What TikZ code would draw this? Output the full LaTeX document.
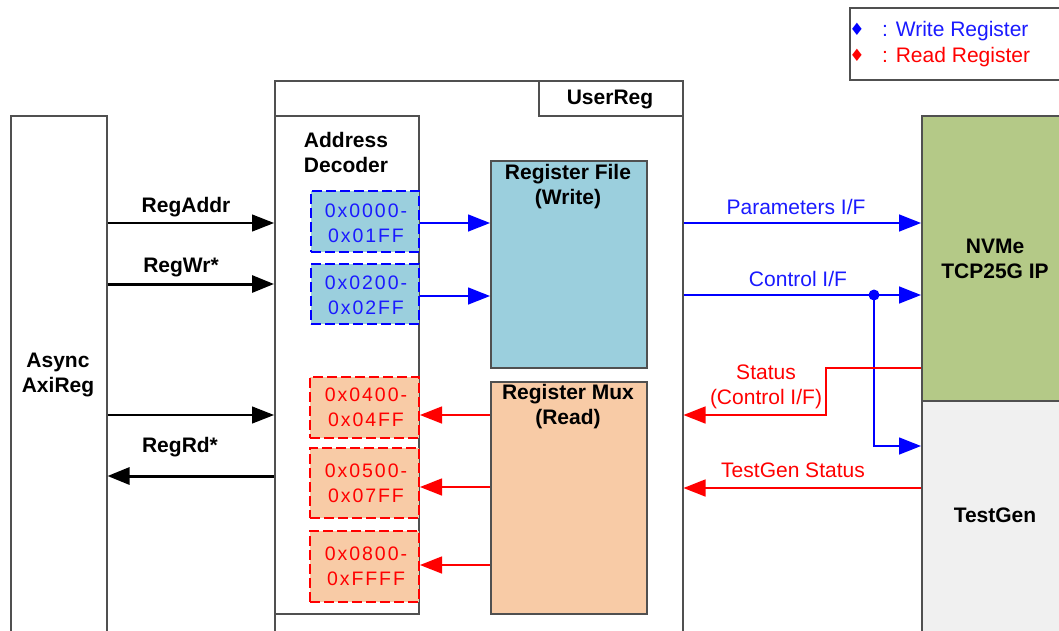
\documentclass[tikz,border=0pt]{standalone}
\usepackage{fontspec}
\setmainfont{Liberation Sans}
\newfontfamily\dejavu{DejaVu Sans}
\newfontfamily\hexfont[LetterSpace=10]{Liberation Sans}
\usetikzlibrary{arrows.meta}
\definecolor{bordc}{HTML}{505050}
\definecolor{rfblue}{HTML}{9BCFDD}
\definecolor{muxor}{HTML}{F8CBA6}
\definecolor{ipgreen}{HTML}{B4C987}
\definecolor{tggrey}{HTML}{F0F0F0}
\definecolor{lnblue}{HTML}{0000FF}
\definecolor{txblue}{HTML}{1A1AFF}
\definecolor{lnred}{HTML}{FF0000}
\tikzset{
  box/.style={draw=bordc, line width=1.5pt, anchor=north west, inner sep=0pt},
  lbl/.style={font=\fontsize{21}{25}\selectfont, align=center, inner sep=0pt, yshift=-2pt},
  blbl/.style={font=\bfseries\fontsize{21}{25}\selectfont, align=center, inner sep=0pt, yshift=-2pt},
  hext/.style={lbl, font=\hexfont\fontsize{19.5}{25}\selectfont},
  hexw/.style={box, draw=lnblue, dash pattern=on 10pt off 4pt, line width=2pt, fill=rfblue},
  hexr/.style={box, draw=lnred, dash pattern=on 10pt off 4pt, line width=2pt, fill=muxor},
  tip/.style={-{Triangle[length=22pt,width=17pt]}},
  thinb/.style={tip, draw=black, line width=1.2pt},
  thickb/.style={tip, draw=black, line width=3pt},
  bluel/.style={tip, draw=lnblue, line width=1.5pt},
  redl/.style={tip, draw=lnred, line width=1.5pt},
  dia/.style={font=\dejavu\fontsize{17}{17}\selectfont, inner sep=0pt}
}
\begin{document}
\begin{tikzpicture}[x=1pt,y=-1pt]
\useasboundingbox (0,0) rectangle (1059,630);
\clip (0,0) rectangle (1059,630);
\fill[white] (0,0) rectangle (1059,630);

% Legend
\node[box, draw=bordc, minimum width=230, minimum height=72] (leg) at (849,7) {};
\node[dia, text=lnblue] (dw) at (857,29) {♦};
\node[lbl, text=txblue, anchor=west] (lw) at (882,29) {: Write Register};
\node[dia, text=lnred] (dr) at (857,55) {♦};
\node[lbl, text=lnred, anchor=west] (lr) at (882,55) {: Read Register};

% Async AxiReg
\node[box, minimum width=96, minimum height=540] (async) at (10,115) {};
\node[blbl] (asynct) at (58,373) {Async\\AxiReg};

% UserReg
\node[box, minimum width=408, minimum height=570] (ur) at (274,80) {};
\node[box, minimum width=144, minimum height=35] (urlbl) at (538,80) {};
\node[blbl] (urt) at (610,97) {UserReg};

% Address decoder
\node[box, minimum width=144, minimum height=498] (dec) at (274,115) {};
\node[blbl] (dect) at (346,150) {Address\\Decoder};

\node[hexw, minimum width=108, minimum height=61] (b1) at (310,190) {};
\node[hext, text=txblue] (b1t) at (366,221) {0x0000-\\0x01FF};
\node[hexw, minimum width=108, minimum height=60] (b2) at (310,263) {};
\node[hext, text=txblue] (b2t) at (366,293) {0x0200-\\0x02FF};

\node[hexr, minimum width=109, minimum height=61] (r1) at (309,376) {};
\node[hext, text=lnred] (r1t) at (366,405) {0x0400-\\0x04FF};
\node[hexr, minimum width=109, minimum height=70] (r2) at (309,447) {};
\node[hext, text=lnred] (r2t) at (366,481) {0x0500-\\0x07FF};
\node[hexr, minimum width=109, minimum height=71] (r3) at (309,530) {};
\node[hext, text=lnred] (r3t) at (366,564) {0x0800-\\0xFFFF};

% Register file / mux
\node[box, fill=rfblue, minimum width=156, minimum height=207] (rf) at (490,160) {};
\node[blbl] (rft) at (568,185) {Register File\\(Write)};
\node[box, fill=muxor, minimum width=156, minimum height=232] (mux) at (490,381) {};
\node[blbl] (muxt) at (568,405) {Register Mux\\(Read)};

% NVMe / TestGen
\node[box, fill=ipgreen, minimum width=160, minimum height=285] (nvme) at (921,115) {};
\node[blbl] (nvmet) at (995,257) {NVMe\\TCP25G IP};
\node[box, fill=tggrey, minimum width=160, minimum height=250] (tg) at (921,400) {};
\node[blbl] (tgt) at (995,513) {TestGen};

% Left connectors
\draw[thinb] (async.east |- 0,223) -- (dec.west |- 0,223);
\node[blbl] (la) at (186,205) {RegAddr};
\draw[thickb] (async.east |- 0,284) -- (dec.west |- 0,284);
\node[blbl] (lwr) at (181,265) {RegWr*};
\draw[thinb] (async.east |- 0,415) -- (dec.west |- 0,415);
\draw[thickb] (dec.west |- 0,476) -- (async.east |- 0,476);
\node[blbl] (lrd) at (180,445) {RegRd*};

% Decoder <-> register file / mux
\draw[bluel] (b1.east |- 0,223) -- (rf.west |- 0,223);
\draw[bluel] (b2.east |- 0,296) -- (rf.west |- 0,296);
\draw[redl] (mux.west |- 0,415) -- (r1.east |- 0,415);
\draw[redl] (mux.west |- 0,487) -- (r2.east |- 0,487);
\draw[redl] (mux.west |- 0,565) -- (r3.east |- 0,565);

% Right connectors
\draw[bluel] (ur.east |- 0,223) -- (nvme.west |- 0,223);
\node[lbl, text=txblue] (lpar) at (796,205) {Parameters I/F};
\node[circle, fill=lnblue, inner sep=0pt, minimum size=11pt] (dot) at (874,295) {};
\draw[bluel] (ur.east |- dot) -- (nvme.west |- dot);
\node[lbl, text=txblue] (lctl) at (798,277) {Control I/F};
\draw[bluel] (dot.center) |- (tg.west |- 0,446);
\coordinate (sbend) at (826,415);
\draw[redl] (nvme.west |- 0,368) -| (sbend) -- (ur.east |- sbend);
\node[lbl, text=lnred] (lst) at (766,385) {Status\\(Control I/F)};
\draw[redl] (tg.west |- 0,488) -- (ur.east |- 0,488);
\node[lbl, text=lnred] (ltg) at (793,468) {TestGen Status};
\end{tikzpicture}
\end{document}
